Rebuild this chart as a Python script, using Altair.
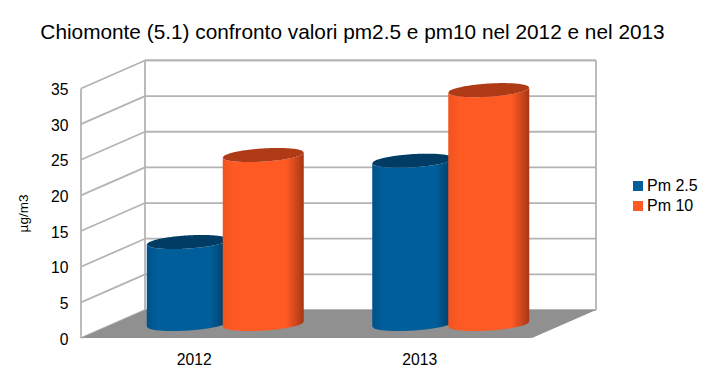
import altair as alt
import pandas as pd

YEARS = ["2012", "2013"]
SERIES = ["Pm 2.5", "Pm 10"]
PM25 = [11.5, 22.9]
PM10 = [23.7, 32.8]

BLUE = "#005f9b"
ORANGE = "#ff5a24"
BLUE_CAP = "#003c64"
ORANGE_CAP = "#ae3a16"
GRID = "#b4b4b4"
FLOOR = "#909090"
FONT = "Liberation Sans"

W, H = 515, 277
UNIT = 7.13                 # px per µg/m3
YTOP = H / UNIT
CAT = 225.5                 # px per category
DX = 64 / CAT               # depth offset, x units
DY = 28 / UNIT              # depth offset, y units
XTOP = W / CAT
TICKS = [0, 5, 10, 15, 20, 25, 30, 35]

xs = alt.Scale(domain=[0, XTOP], nice=False, zero=False)
ys = alt.Scale(domain=[0, YTOP], nice=False, zero=False)

XAX = alt.Axis(
    values=[0.5, 1.5], labelExpr="datum.value < 1 ? '%s' : '%s'" % tuple(YEARS),
    title=None, domain=False, ticks=False, grid=False, labelPadding=14,
    labelFont=FONT, labelFontSize=15.7, labelColor="#000000")
YAX = alt.Axis(
    values=TICKS, title="µg/m3", titleFont=FONT, titleFontSize=13.5, titleFontWeight="normal",
    titleColor="#000000", titleX=-51, titleY=152, domain=False, ticks=False, grid=False,
    labelPadding=13, labelOffset=1, labelFont=FONT, labelFontSize=15.7, labelColor="#000000")


def X():
    return alt.X("x:Q", scale=xs, axis=XAX)


def Y():
    return alt.Y("y:Q", scale=ys, axis=YAX)


def segs(rows):
    return pd.DataFrame(rows, columns=["x", "y", "x2", "y2"])


def rules(rows, width=1.8):
    return alt.Chart(segs(rows)).mark_rule(color=GRID, strokeWidth=width).encode(
        x=X(), y=Y(), x2="x2:Q", y2="y2:Q",
    )


back = rules([[DX, v + DY, XTOP, v + DY] for v in TICKS])
side = rules([[0, v, DX, v + DY] for v in TICKS])
edges = rules([
    [0, 0, 0, 35],
    [DX, DY, DX, 35 + DY],
    [XTOP, DY, XTOP, 35 + DY],
    [DX, 35 + DY, XTOP, 35 + DY],
])

floor = alt.Chart(pd.DataFrame({
    "x": [0, DX, 2, XTOP],
    "y": [0, DY, DY, DY],
    "y0": [0, 0, 0, DY],
})).mark_area(color=FLOOR, opacity=1).encode(x=X(), y=Y(), y2="y0:Q")

HALF = 40.5 / CAT
TILT = 2.5 / UNIT
B = 6.6 / UNIT
STEPS = [i / 30 - 1 for i in range(61)]


def half(u):
    return (max(0.0, 1 - u * u)) ** 0.5


def gradient(edge, mid, dark):
    return alt.Gradient(
        gradient="linear", x1=0, x2=1, y1=0, y2=0,
        stops=[
            alt.GradientStop(offset=0, color=edge),
            alt.GradientStop(offset=0.15, color=mid),
            alt.GradientStop(offset=0.78, color=mid),
            alt.GradientStop(offset=1, color=dark),
        ],
    )


def cylinder(cx, value, fill, cap):
    base = DY / 2
    body = pd.DataFrame([
        {"x": cx + HALF * u,
         "y": value + base + TILT * u - B * half(u),
         "y0": base + TILT * u - B * half(u)}
        for u in STEPS
    ])
    top = pd.DataFrame([
        {"x": cx + HALF * u,
         "y": value + base + TILT * u + B * half(u),
         "y0": value + base + TILT * u - B * half(u)}
        for u in STEPS
    ])
    return [
        alt.Chart(body).mark_area(color=fill, opacity=1).encode(x=X(), y=Y(), y2="y0:Q"),
        alt.Chart(top).mark_area(color=cap, opacity=1).encode(x=X(), y=Y(), y2="y0:Q"),
    ]


layers = [back, side, edges, floor]
for i in range(len(YEARS)):
    cc = i + 0.5 + DX / 2
    layers += cylinder(cc - 38.5 / CAT, PM25[i], gradient("#00528a", BLUE, "#003a60"), BLUE_CAP)
    layers += cylinder(cc + 37.5 / CAT, PM10[i], gradient("#f0541f", ORANGE, "#a83614"), ORANGE_CAP)

legend = alt.Chart(pd.DataFrame({"s": SERIES})).mark_square(size=0).encode(
    color=alt.Color("s:N", sort=SERIES,
                    scale=alt.Scale(domain=SERIES, range=[BLUE, ORANGE]),
                    legend=alt.Legend(
                        title=None, orient="none", legendX=549, legendY=117,
                        symbolType="square", symbolSize=100, symbolStrokeWidth=0, symbolOpacity=1,
                        labelFont=FONT, labelFontSize=16, labelColor="#000000",
                        rowPadding=4, labelOffset=1)),
)
layers.append(legend)

chart = alt.layer(*layers).resolve_scale(x="shared", y="shared").properties(
    width=W, height=H,
    autosize="none",
    padding={"left": 73, "top": 53, "right": 104, "bottom": 31},
    title=alt.TitleParams(
        "Chiomonte (5.1) confronto valori pm2.5 e pm10 nel 2012 e nel 2013",
        font=FONT, fontSize=20.8, fontWeight="normal", color="#000000",
        anchor="middle", dx=14, offset=16),
).configure_view(stroke=None).configure_axis(labelOverlap=False)

chart.save("out.html", embed_options={"renderer": "svg", "actions": False})
